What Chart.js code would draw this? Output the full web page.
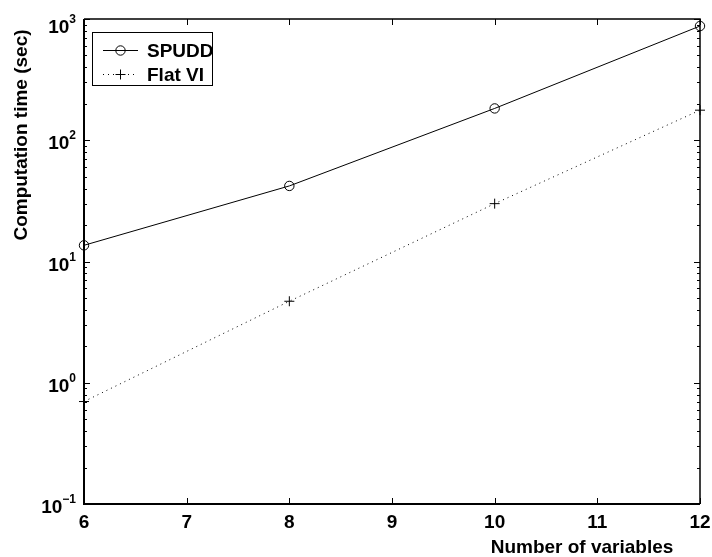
<!DOCTYPE html>
<html>
<head>
<meta charset="utf-8">
<script src="https://cdn.jsdelivr.net/npm/chart.js@4"></script>
<style>
  html, body { margin: 0; padding: 0; background: #fff; }
</style>
</head>
<body>
<canvas id="myChart" width="712" height="557"></canvas>
<script>
'use strict';

// データ
const xValues = [6, 8, 10, 12];
const spuddTimes = [13.6, 42, 183, 875];
const flatViTimes = [0.70, 4.7, 30, 177];
const xTicks = [6, 7, 8, 9, 10, 11, 12];
const yExponents = [-1, 0, 1, 2, 3];
const seriesNames = ['SPUDD', 'Flat VI'];

const FONT = 'bold 19px "Liberation Sans", Arial, sans-serif';
const SUP_FONT = 'bold 12px "Liberation Sans", Arial, sans-serif';

// MATLAB風の軸・目盛・凡例
const matlabAxes = {
  id: 'matlabAxes',
  afterDraw(chart) {
    const { ctx, chartArea: a, scales: { x, y } } = chart;
    ctx.save();
    ctx.strokeStyle = '#000';
    ctx.fillStyle = '#000';
    ctx.setLineDash([]);

    // 目盛
    ctx.lineWidth = 1;
    ctx.beginPath();
    xTicks.forEach(v => {
      const px = Math.round(x.getPixelForValue(v)) + 0.5;
      ctx.moveTo(px, a.bottom); ctx.lineTo(px, a.bottom - 6);
      ctx.moveTo(px, a.top); ctx.lineTo(px, a.top + 6);
    });
    yExponents.forEach((e, i) => {
      const py = Math.round(y.getPixelForValue(Math.pow(10, e))) + 0.5;
      ctx.moveTo(a.left, py); ctx.lineTo(a.left + 6, py);
      ctx.moveTo(a.right, py); ctx.lineTo(a.right - 6, py);
      if (i < yExponents.length - 1) {
        for (let k = 2; k <= 9; k++) {
          const pm = Math.round(y.getPixelForValue(k * Math.pow(10, e))) + 0.5;
          ctx.moveTo(a.left, pm); ctx.lineTo(a.left + 3, pm);
          ctx.moveTo(a.right, pm); ctx.lineTo(a.right - 3, pm);
        }
      }
    });
    ctx.stroke();

    // 枠
    ctx.lineWidth = 1.5;
    ctx.beginPath();
    ctx.moveTo(a.left, a.top); ctx.lineTo(a.right, a.top); ctx.lineTo(a.right, a.bottom);
    ctx.stroke();
    ctx.lineWidth = 2;
    ctx.beginPath();
    ctx.moveTo(a.left, a.top); ctx.lineTo(a.left, a.bottom); ctx.lineTo(a.right, a.bottom);
    ctx.stroke();

    // x目盛ラベル
    ctx.font = FONT;
    ctx.textAlign = 'center';
    ctx.textBaseline = 'alphabetic';
    xTicks.forEach(v => {
      ctx.fillText(String(v), x.getPixelForValue(v), a.bottom + 24);
    });

    // y目盛ラベル 10^n
    const labelRight = 76;
    yExponents.forEach(e => {
      const py = y.getPixelForValue(Math.pow(10, e));
      const mid = Math.max(py + 2, a.top + 7);
      const expText = e < 0 ? '\u2212' + Math.abs(e) : String(e);
      ctx.font = SUP_FONT;
      const expW = ctx.measureText(expText).width;
      ctx.textAlign = 'left';
      ctx.fillText(expText, labelRight - expW, mid - 3);
      ctx.font = FONT;
      ctx.textAlign = 'right';
      ctx.fillText('10', labelRight - expW, mid + 7);
    });

    // 軸タイトル
    ctx.font = FONT;
    ctx.textAlign = 'center';
    ctx.fillText('Number of variables', 582, 553);
    ctx.save();
    ctx.translate(22, 135);
    ctx.rotate(-Math.PI / 2);
    ctx.textBaseline = 'middle';
    ctx.fillText('Computation time (sec)', 0, 0);
    ctx.restore();

    // 凡例
    const box = { left: 92, top: 32, width: 120, height: 53 };
    ctx.fillStyle = '#fff';
    ctx.fillRect(box.left, box.top, box.width, box.height);
    ctx.lineWidth = 1;
    ctx.strokeStyle = '#000';
    ctx.strokeRect(box.left + 0.5, box.top + 0.5, box.width, box.height);
    chart.data.datasets.forEach((ds, i) => {
      const ly = box.top + 18.5 + i * 24;
      ctx.strokeStyle = '#000';
      ctx.lineWidth = 1;
      ctx.setLineDash(ds.borderDash || []);
      ctx.beginPath();
      ctx.moveTo(box.left + 11, ly);
      ctx.lineTo(box.left + 46, ly);
      ctx.stroke();
      ctx.setLineDash([]);
      ctx.fillStyle = 'rgba(0,0,0,0)';
      Chart.helpers.drawPoint(ctx, {
        pointStyle: ds.pointStyle, radius: ds.pointRadius, borderWidth: 1, rotation: 0
      }, box.left + 28.5, ly);
      ctx.fillStyle = '#000';
      ctx.font = FONT;
      ctx.textAlign = 'left';
      ctx.textBaseline = 'middle';
      ctx.fillText(ds.label, box.left + 55, ly + 1);
    });

    ctx.restore();
  }
};

const toPoints = (vals) => xValues.map((v, i) => ({ x: v, y: vals[i] }));

const ctxDom = document.getElementById('myChart').getContext('2d');

new Chart(ctxDom, {
  type: 'line',
  data: {
    datasets: [
      {
        label: seriesNames[0],
        data: toPoints(spuddTimes),
        borderColor: '#000',
        borderWidth: 1,
        pointStyle: 'circle',
        pointRadius: 4.7,
        pointBorderColor: '#000',
        pointBackgroundColor: 'rgba(0,0,0,0)',
        pointBorderWidth: 1,
        tension: 0,
        clip: false
      },
      {
        label: seriesNames[1],
        data: toPoints(flatViTimes),
        borderColor: '#000',
        borderWidth: 1,
        borderDash: [1, 4],
        pointStyle: 'cross',
        pointRadius: 5,
        pointBorderColor: '#000',
        pointBorderWidth: 1,
        tension: 0,
        clip: false
      }
    ]
  },
  options: {
    responsive: false,
    animation: false,
    events: [],
    layout: {
      padding: { left: 84, right: 12, top: 19, bottom: 53 }
    },
    plugins: {
      legend: { display: false },
      tooltip: { enabled: false }
    },
    scales: {
      x: { type: 'linear', min: 6, max: 12, display: false },
      y: { type: 'logarithmic', min: 0.1, max: 1000, display: false }
    }
  },
  plugins: [matlabAxes]
});
</script>
</body>
</html>
